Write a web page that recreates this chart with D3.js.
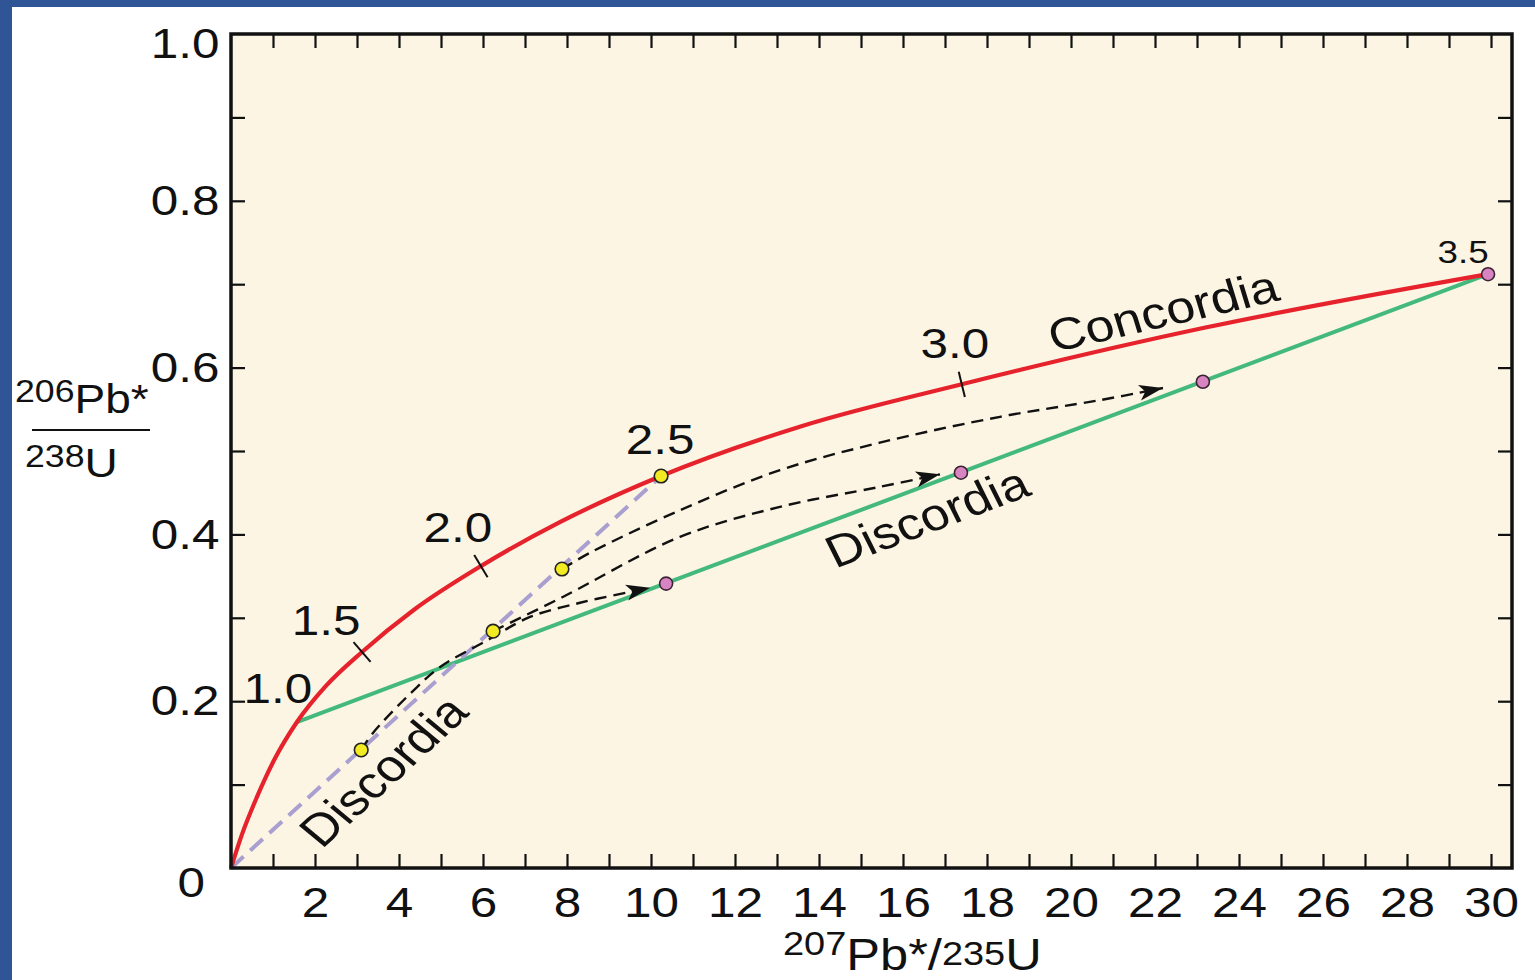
<!DOCTYPE html>
<html>
<head>
<meta charset="utf-8">
<script src="https://cdn.jsdelivr.net/npm/d3@7"></script>
<style>
  body { margin: 0; background: #fff; }
  svg { display: block; }
  text { font-family: "Liberation Sans", Arial, Helvetica, sans-serif; fill: #111; }
</style>
</head>
<body>
<svg id="chart" width="1535" height="980"></svg>
<script>
// concordia curve: 207Pb*/235U vs 206Pb*/238U
const concordiaX = [0, 0.27, 0.608, 1.033, 1.57, 2.255, 3.12, 4.35, 5.95, 7.83, 10.24, 13.6, 17.40, 23.2, 29.93];
const concordiaY = [0, 0.0415, 0.084, 0.130, 0.175, 0.218, 0.259, 0.3094, 0.362, 0.4147, 0.470, 0.530, 0.580, 0.648, 0.712];

// ages (Ga) marked along concordia
const ageNames = ['1.0', '1.5', '2.0', '2.5', '3.0', '3.5'];
const ageX = [1.57, 3.12, 5.95, 10.24, 17.40, 29.93];
const ageY = [0.175, 0.259, 0.362, 0.470, 0.580, 0.712];
const ageHasTick = [false, true, true, false, true, false];

// samples before (yellow) and after (pink) lead loss
const yellowX = [3.10, 6.24, 7.88, 10.24];
const yellowY = [0.1415, 0.284, 0.3585, 0.470];
const pinkX = [10.36, 17.38, 23.14, 29.93];
const pinkY = [0.341, 0.474, 0.583, 0.712];

// dashed arrows (lead-loss paths)
const arrowAX = [3.10, 3.38, 4.43, 4.98, 6.10, 7.12, 8.31, 9.50, 9.98];
const arrowAY = [0.1415, 0.162, 0.217, 0.241, 0.273, 0.301, 0.318, 0.331, 0.336];
const arrowBX = [6.24, 7.90, 10.69, 13.07, 15.45, 16.88];
const arrowBY = [0.284, 0.325, 0.397, 0.433, 0.457, 0.472];
const arrowCX = [7.88, 8.55, 10.69, 13.07, 15.45, 18.31, 20.69, 22.19];
const arrowCY = [0.3585, 0.378, 0.429, 0.477, 0.510, 0.541, 0.561, 0.5755];

// axes
const xMinorTicks = d3.range(1, 31);
const xTickLabels = [2, 4, 6, 8, 10, 12, 14, 16, 18, 20, 22, 24, 26, 28, 30];
const yMinorTicks = [0.1, 0.2, 0.3, 0.4, 0.5, 0.6, 0.7, 0.8, 0.9];
const yTickLabels = [0.2, 0.4, 0.6, 0.8, 1.0];

// ----- layout -----
const SX = 1.15;            // the figure's lettering is slightly wide
const plotL = 231, plotR = 1512, plotT = 34, plotB = 868;
const red = '#e6222c', green = '#44b97e', lilac = '#a99fd0';
const yellow = '#f2ea22', pink = '#d884c2', cream = '#fdf5e3';

// label offsets from the marked age point (pixels)
const ageLabelDx = [-19, -36, -23, -1, -7, -25];
const ageLabelDy = [-34, -32, -39, -37, -41, -22];
const ageLabelSize = [43, 43, 43, 43, 43, 32];

const svg = d3.select('#chart');
const x = d3.scaleLinear().domain([0, 30.5]).range([plotL, plotR]);
const y = d3.scaleLinear().domain([0, 1]).range([plotB, plotT]);

// frame of the slide
svg.append('rect').attr('width', 1535).attr('height', 980).attr('fill', '#fff');
svg.append('rect').attr('width', 1535).attr('height', 7).attr('fill', '#2f5597');
svg.append('rect').attr('width', 12).attr('height', 980).attr('fill', '#2f5597');

svg.append('rect')
  .attr('x', plotL).attr('y', plotT)
  .attr('width', plotR - plotL).attr('height', plotB - plotT)
  .attr('fill', cream);

function stretched(px, py, angle) {
  const a = Math.atan(Math.tan(angle * Math.PI / 180) * SX) * 180 / Math.PI;
  return `translate(${px},${py}) scale(${SX},1) rotate(${a})`;
}

// inward ticks on all four sides
const tickLen = 14;
const gAx = svg.append('g').attr('class', 'ticks');
gAx.append('g').attr('transform', `translate(0,${plotB})`)
  .call(d3.axisBottom(x).tickValues(xMinorTicks).tickSize(-tickLen).tickFormat(''));
gAx.append('g').attr('transform', `translate(0,${plotT})`)
  .call(d3.axisTop(x).tickValues(xMinorTicks).tickSize(-tickLen).tickFormat(''));
gAx.append('g').attr('transform', `translate(${plotL},0)`)
  .call(d3.axisLeft(y).tickValues(yMinorTicks).tickSize(-tickLen).tickFormat(''));
gAx.append('g').attr('transform', `translate(${plotR},0)`)
  .call(d3.axisRight(y).tickValues(yMinorTicks).tickSize(-tickLen).tickFormat(''));
gAx.selectAll('.domain').remove();
gAx.selectAll('line').attr('stroke', '#111').attr('stroke-width', 2.2);

// tick labels
const xLab = svg.append('g').attr('transform', `translate(0,${plotB})`)
  .call(d3.axisBottom(x).tickValues(xTickLabels).tickSize(0).tickPadding(18).tickFormat(d3.format('d')));
const yLab = svg.append('g').attr('transform', `translate(${plotL},0)`)
  .call(d3.axisLeft(y).tickValues(yTickLabels).tickSize(0).tickPadding(10).tickFormat(d3.format('.1f')));
[xLab, yLab].forEach(g => {
  g.select('.domain').remove();
  g.selectAll('text')
    .attr('font-family', null).attr('fill', '#111')
    .style('font-size', '43px')
    .attr('transform', `scale(${SX},1)`);
});
yLab.selectAll('text').filter(d => d === 1.0).attr('dy', '0.55em');
svg.append('text')
  .attr('transform', `translate(205,882) scale(${SX},1)`)
  .attr('text-anchor', 'end').attr('dy', '0.35em')
  .style('font-size', '43px').text('0');

// lines
const pts = (xs, ys) => xs.map((v, i) => [v, ys[i]]);
const line = d3.line().x(d => x(d[0])).y(d => y(d[1]));
const smooth = d3.line().x(d => x(d[0])).y(d => y(d[1])).curve(d3.curveMonotoneX);
const plot = svg.append('g');

// discordia 1.0 -> 3.5
plot.append('path')
  .attr('d', line([[ageX[0], ageY[0]], [ageX[5], ageY[5]]]))
  .attr('fill', 'none').attr('stroke', green).attr('stroke-width', 4);

// discordia through origin -> 2.5
plot.append('path')
  .attr('d', line([[0, 0], [yellowX[3], yellowY[3]]]))
  .attr('fill', 'none').attr('stroke', lilac).attr('stroke-width', 4)
  .attr('stroke-dasharray', '17,9');

// concordia
plot.append('path')
  .attr('d', smooth(pts(concordiaX, concordiaY)))
  .attr('fill', 'none').attr('stroke', red).attr('stroke-width', 4.2);

// age ticks across concordia
ageNames.forEach((name, i) => {
  if (!ageHasTick[i]) return;
  const k = concordiaX.indexOf(ageX[i]);
  const dx = x(concordiaX[k + 1]) - x(concordiaX[k - 1]);
  const dy = y(concordiaY[k + 1]) - y(concordiaY[k - 1]);
  const n = Math.hypot(dx, dy);
  const nx = -dy / n * 13, ny = dx / n * 13;
  const cx = x(ageX[i]), cy = y(ageY[i]);
  plot.append('line')
    .attr('x1', cx - nx).attr('y1', cy - ny)
    .attr('x2', cx + nx).attr('y2', cy + ny)
    .attr('stroke', '#111').attr('stroke-width', 2);
});

// dashed arrows
svg.append('defs').append('marker')
  .attr('id', 'arrow')
  .attr('markerUnits', 'userSpaceOnUse')
  .attr('viewBox', '0 -10 26 20')
  .attr('refX', 24).attr('refY', 0)
  .attr('markerWidth', 26).attr('markerHeight', 20)
  .attr('orient', 'auto')
  .append('path')
  .attr('d', 'M0,-8L24,0L0,8L6,0Z')
  .attr('fill', '#111');

const curvy = d3.line().x(d => x(d[0])).y(d => y(d[1])).curve(d3.curveCatmullRom);
[pts(arrowAX, arrowAY), pts(arrowBX, arrowBY), pts(arrowCX, arrowCY)].forEach(p => {
  plot.append('path')
    .attr('d', curvy(p))
    .attr('fill', 'none').attr('stroke', '#111').attr('stroke-width', 2.4)
    .attr('stroke-dasharray', '12,7')
    .attr('marker-end', 'url(#arrow)');
});

// points
plot.selectAll('.pink').data(pts(pinkX, pinkY)).join('circle')
  .attr('class', 'pink')
  .attr('cx', d => x(d[0])).attr('cy', d => y(d[1])).attr('r', 6.5)
  .attr('fill', pink).attr('stroke', '#3a2433').attr('stroke-width', 1.6);
plot.selectAll('.yellow').data(pts(yellowX, yellowY)).join('circle')
  .attr('class', 'yellow')
  .attr('cx', d => x(d[0])).attr('cy', d => y(d[1])).attr('r', 6.8)
  .attr('fill', yellow).attr('stroke', '#222').attr('stroke-width', 1.6);

// age labels
ageNames.forEach((name, i) => {
  svg.append('text')
    .attr('transform', stretched(x(ageX[i]) + ageLabelDx[i], y(ageY[i]) + ageLabelDy[i], 0))
    .attr('text-anchor', 'middle').attr('dy', '0.35em')
    .style('font-size', ageLabelSize[i] + 'px')
    .text(name);
});

// curve names
svg.append('text')
  .attr('transform', stretched(1163, 311, -13))
  .attr('text-anchor', 'middle').attr('dy', '0.35em')
  .style('font-size', '45px').text('Concordia');
svg.append('text')
  .attr('transform', stretched(927, 517, -20.6))
  .attr('text-anchor', 'middle').attr('dy', '0.35em')
  .style('font-size', '45px').text('Discordia');
svg.append('text')
  .attr('transform', stretched(383, 771, -42.4))
  .attr('text-anchor', 'middle').attr('dy', '0.35em')
  .style('font-size', '45px').text('Discordia');

// frame
svg.append('rect')
  .attr('x', plotL).attr('y', plotT)
  .attr('width', plotR - plotL).attr('height', plotB - plotT)
  .attr('fill', 'none').attr('stroke', '#111').attr('stroke-width', 3.5);

// axis titles
const yt1 = svg.append('text').attr('transform', `translate(15,413) scale(${SX},1)`);
yt1.append('tspan').style('font-size', '31px').attr('dy', -11).text('206');
yt1.append('tspan').style('font-size', '40px').attr('dy', 11).text('Pb*');
svg.append('line')
  .attr('x1', 32).attr('x2', 150).attr('y1', 430).attr('y2', 430)
  .attr('stroke', '#111').attr('stroke-width', 2);
const yt2 = svg.append('text').attr('transform', `translate(25,477) scale(${SX},1)`);
yt2.append('tspan').style('font-size', '31px').attr('dy', -10).text('238');
yt2.append('tspan').style('font-size', '40px').attr('dy', 10).text('U');

const xt = svg.append('text').attr('transform', `translate(783,970) scale(${SX},1)`);
xt.append('tspan').style('font-size', '33px').attr('dy', -15).text('207');
xt.append('tspan').style('font-size', '44px').attr('dy', 15).text('Pb*');
xt.append('tspan').style('font-size', '44px').text('/');
xt.append('tspan').style('font-size', '33px').attr('dy', -5).text('235');
xt.append('tspan').style('font-size', '44px').attr('dy', 5).text('U');
</script>
</body>
</html>
